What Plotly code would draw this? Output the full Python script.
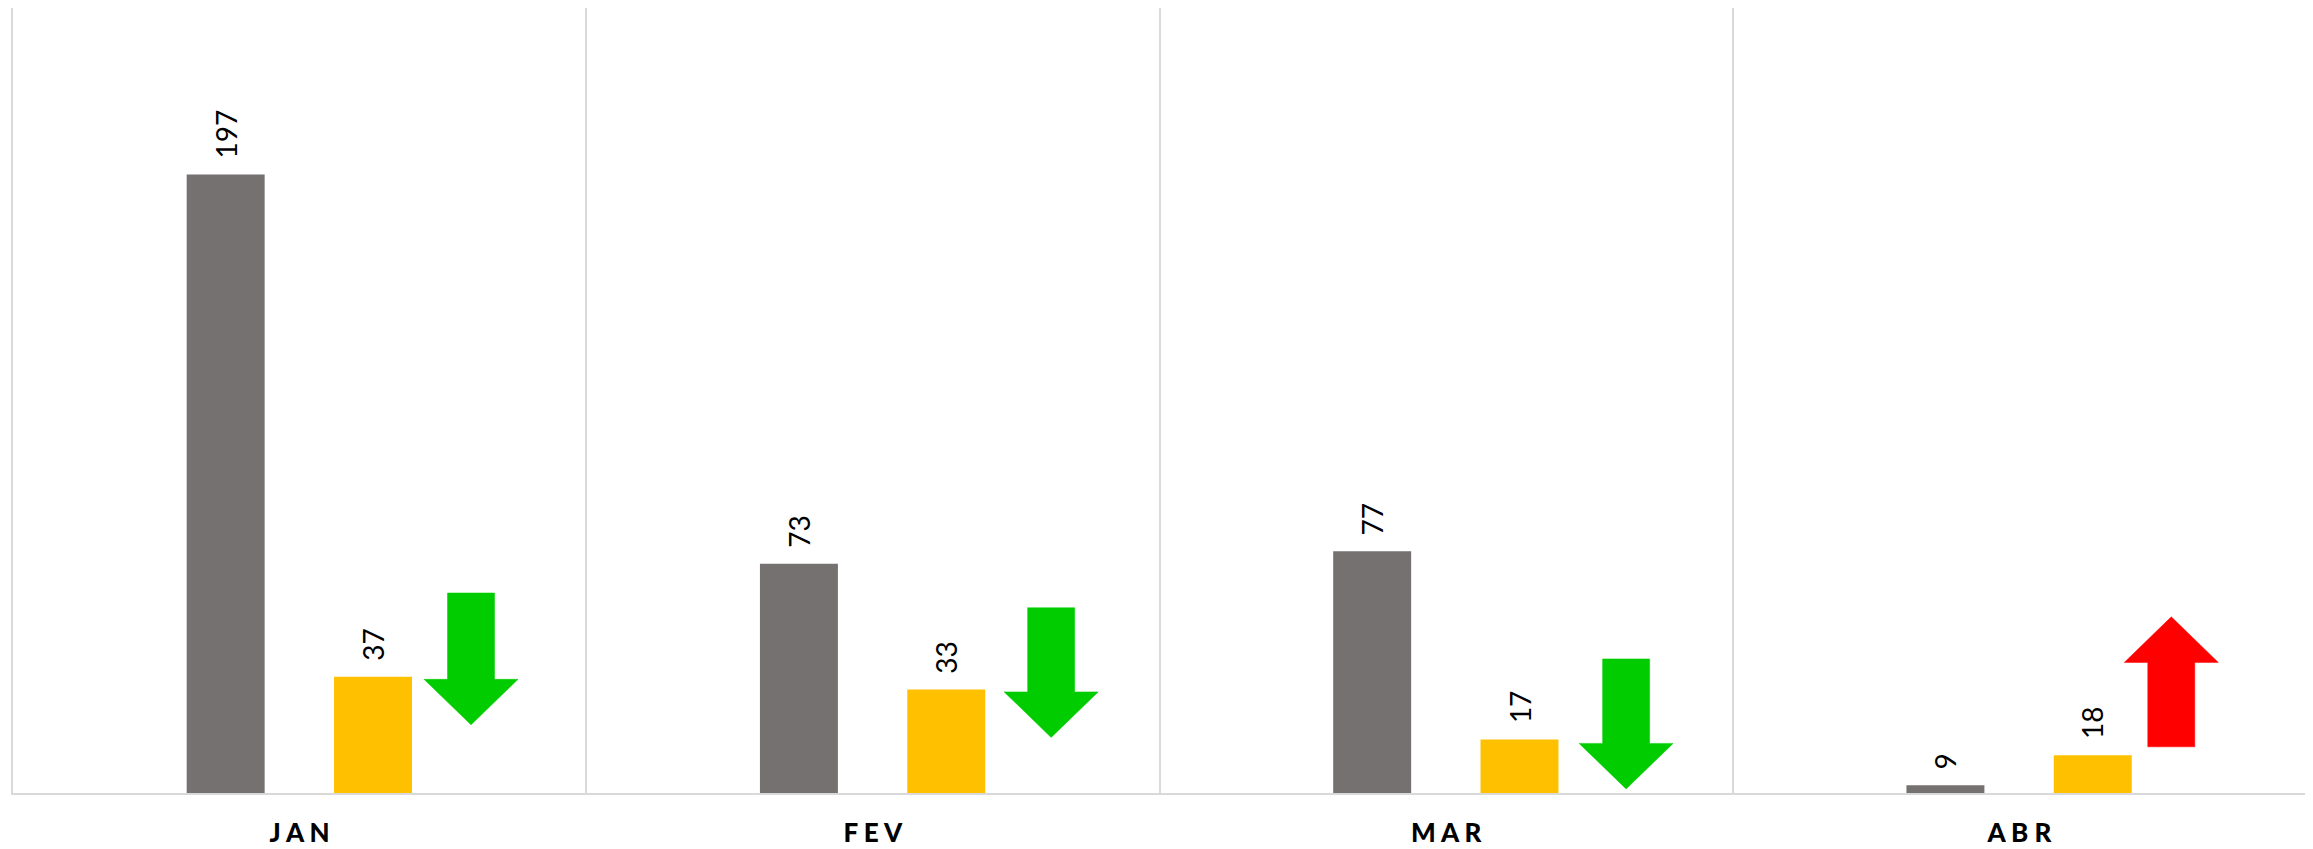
import plotly.graph_objects as go

# ---- data ----
meses = ["JAN", "FEV", "MAR", "ABR"]
serie_cinza = [197, 73, 77, 2.5]
serie_amarela = [37, 33, 17, 12]
rotulo_cinza = ["197", "73", "77", "9"]
rotulo_amarelo = ["37", "33", "17", "18"]
seta_x = [0.299, 1.311, 2.314, 3.265]
seta_inicio = [63.7, 59.0, 42.7, 14.7]
seta_fim = [21.7, 17.7, 1.3, 56.1]

# ---- style ----
COR_CINZA = "#767171"
COR_AMARELA = "#FFC000"
COR_DESCE = "#00CC00"
COR_SOBE = "#FF0000"
GRID = "#D9D9D9"
BAR_W = 0.136
OFF_CINZA = -0.129 - BAR_W / 2
OFF_AMARELA = 0.128 - BAR_W / 2
HEAD_LEN = 14.5
SHAFT_HW = 0.041
HEAD_HW = 0.082
FONT = "Lato"

xs = list(range(len(meses)))

fig = go.Figure()
fig.add_trace(go.Bar(x=xs, y=serie_cinza, width=BAR_W, offset=OFF_CINZA,
                     marker=dict(color=COR_CINZA, line=dict(width=0)),
                     hoverinfo="skip", showlegend=False))
fig.add_trace(go.Bar(x=xs, y=serie_amarela, width=BAR_W, offset=OFF_AMARELA,
                     marker=dict(color=COR_AMARELA, line=dict(width=0)),
                     hoverinfo="skip", showlegend=False))

# arrows
for cx, y0, y1 in zip(seta_x, seta_inicio, seta_fim):
    d = 1 if y1 > y0 else -1
    base = y1 - d * HEAD_LEN
    px = [cx - SHAFT_HW, cx - SHAFT_HW, cx - HEAD_HW, cx, cx + HEAD_HW,
          cx + SHAFT_HW, cx + SHAFT_HW, cx - SHAFT_HW]
    py = [y0, base, base, y1, base, base, y0, y0]
    cor = COR_SOBE if d > 0 else COR_DESCE
    fig.add_trace(go.Scatter(x=px, y=py, mode="lines", fill="toself",
                             fillcolor=cor, line=dict(color=cor, width=0.5),
                             hoverinfo="skip", showlegend=False))

# value labels
for i in xs:
    for vals, rots, off in ((serie_cinza, rotulo_cinza, OFF_CINZA),
                            (serie_amarela, rotulo_amarelo, OFF_AMARELA)):
        fig.add_annotation(x=i + off + BAR_W / 2, y=vals[i], text=rots[i],
                           textangle=-90, showarrow=False, xanchor="center",
                           yanchor="bottom", yshift=14,
                           font=dict(family=FONT, size=28, color="black"))

# page body has an 8px margin: size/margins compensate for it
fig.update_layout(
    width=2305, height=841,
    margin=dict(l=5, r=7, t=0, b=56, autoexpand=False),
    plot_bgcolor="white", paper_bgcolor="white",
    barmode="overlay",
)
fig.update_xaxes(range=[-0.5, 3.5], tickvals=xs,
                 ticktext=[" ".join(m) for m in meses],
                 tickfont=dict(family=FONT, size=26, color="black", weight=900),
                 ticks="", ticklabelstandoff=16,
                 showline=True, linecolor=GRID, linewidth=2,
                 showgrid=False, zeroline=False,
                 minor=dict(tickvals=[0.5, 1.5, 2.5], showgrid=True,
                            gridcolor=GRID, gridwidth=2, ticks=""))
fig.update_yaxes(range=[0, 250], showticklabels=False, ticks="",
                 showgrid=False, zeroline=False,
                 showline=True, mirror=True, linecolor=GRID, linewidth=2)

fig.write_html("out.html")
